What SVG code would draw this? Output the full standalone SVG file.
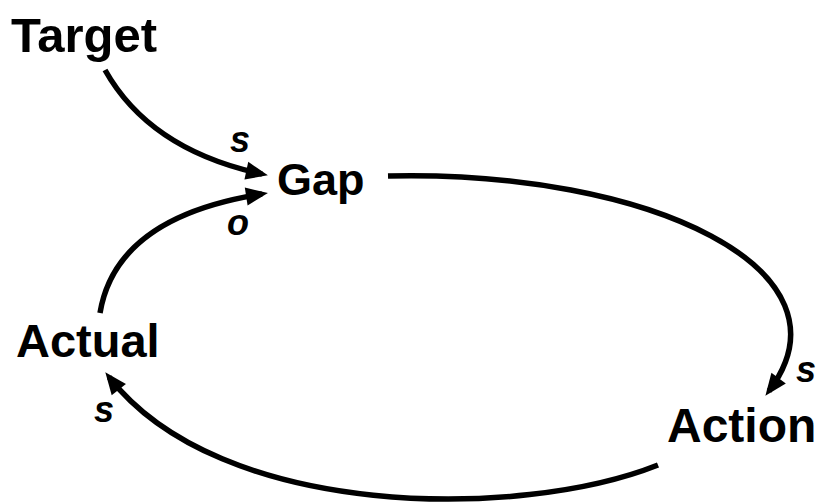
<svg xmlns="http://www.w3.org/2000/svg" width="821" height="502" viewBox="0 0 821 502">
<style>
.node{font-family:"Liberation Sans",Arial,sans-serif;font-weight:bold;fill:#000}
.lbl{font-family:"Liberation Sans",Arial,sans-serif;font-weight:bold;font-style:italic;font-size:36px;fill:#000}
.link{fill:none;stroke:#000;stroke-width:5.5}
</style>
<defs>
<marker id="ah" markerUnits="userSpaceOnUse" markerWidth="24" markerHeight="20" refX="16" refY="9" orient="auto" overflow="visible">
<path d="M0,0 L22,9 L0,18 Z" fill="#000"/>
</marker>
</defs>
<rect width="821" height="502" fill="#fff"/>
<g id="connectors">
<path class="link" d="M105,70 Q150,150 262,174" marker-end="url(#ah)"/>
<path class="link" d="M100,313 Q116,217 262,194" marker-end="url(#ah)"/>
<path class="link" d="M388,176 C650,170 860,270 769,391" marker-end="url(#ah)"/>
<path class="link" d="M658,465 C520,520 220,520 109,377" marker-end="url(#ah)"/>
</g>
<g id="node-target"><text class="node" x="11" y="52" font-size="49">Target</text></g>
<g id="node-gap"><text class="node" x="277" y="195" font-size="45">Gap</text></g>
<g id="node-actual"><text class="node" x="16" y="357" font-size="47">Actual</text></g>
<g id="node-action"><text class="node" x="667" y="442" font-size="48">Action</text></g>
<g id="labels">
<text class="lbl" x="230" y="152">s</text>
<text class="lbl" x="227" y="235">o</text>
<text class="lbl" x="796" y="382">s</text>
<text class="lbl" x="94" y="422">s</text>
</g>
</svg>
